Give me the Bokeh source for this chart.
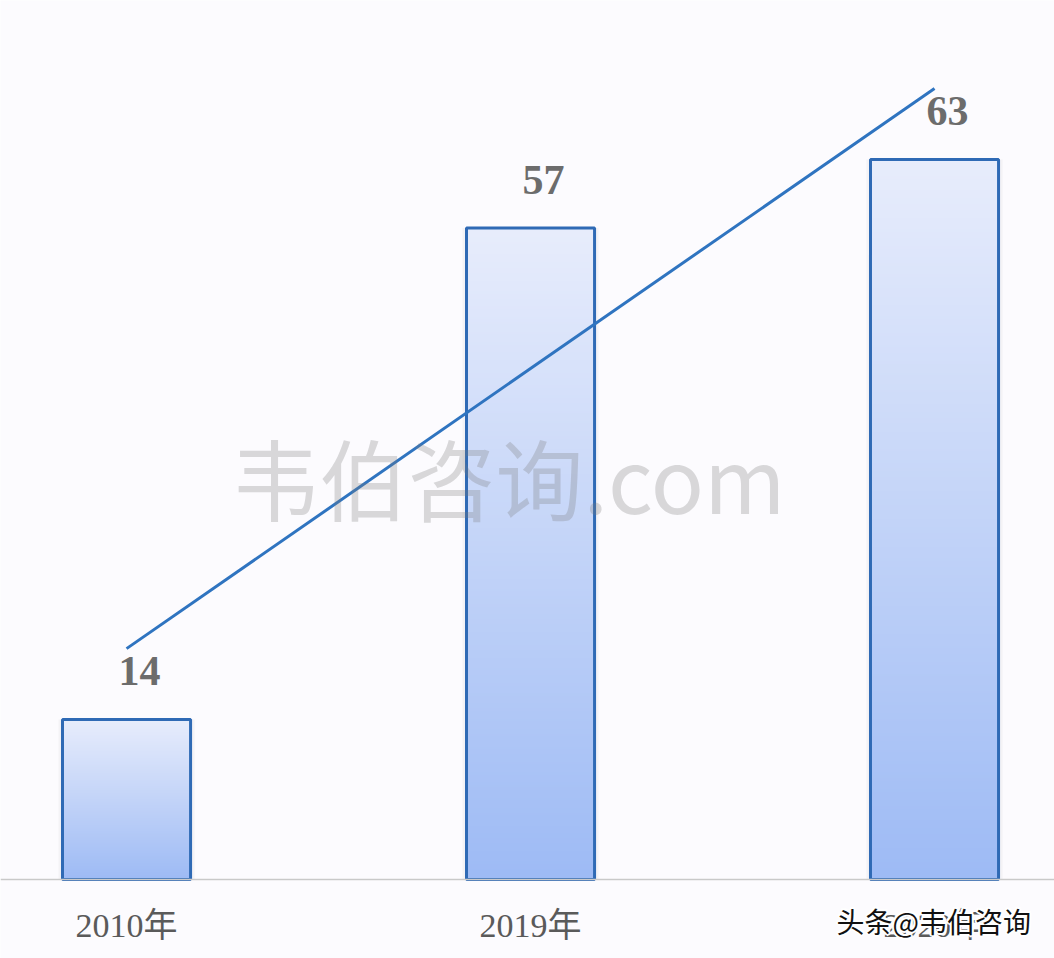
import numpy as np
from bokeh.plotting import figure
from bokeh.models import Range1d, Label, ColumnDataSource, Span
from bokeh.core.properties import value
from bokeh.embed import file_html
from bokeh.resources import INLINE

# ---- data ----
years = ["2010年", "2019年", "2020年"]
counts = [14, 57, 63]
trend = [20.2, 44.7, 69.2]
label_texts = ["14", "57", "63"]

xs = [0, 1, 2]
bar_w = 0.317

W, H = 1054, 958
p = figure(width=W, height=H, x_range=Range1d(-0.312, 2.297), y_range=Range1d(-6.91, 76.9),
           output_backend="svg", toolbar_location=None,
           min_border_left=0, min_border_right=0, min_border_top=0, min_border_bottom=0)
p.background_fill_color = "#fcfbfe"
p.border_fill_color = "#fcfbfe"
p.outline_line_color = None
p.grid.visible = False
p.xaxis.visible = False
p.yaxis.visible = False

# baseline
p.add_layout(Span(location=0, dimension="width", line_color="#c9c9c9", line_width=1.5))

# shadows
p.vbar(x=xs, top=counts, width=bar_w + 0.02, bottom=0, fill_color="#8a8a8a", fill_alpha=0.07,
       line_color=None)

# gradient bars
n = 256
top_c = np.array([0xe8, 0xed, 0xfc])
bot_c = np.array([0x9e, 0xbb, 0xf5])
grad = np.zeros((n, 1), dtype=np.uint32)
view = grad.view(dtype=np.uint8).reshape((n, 1, 4))
for i in range(n):
    t = i / (n - 1)
    c = bot_c * (1 - t) + top_c * t
    view[i, 0, 0] = int(c[0]); view[i, 0, 1] = int(c[1]); view[i, 0, 2] = int(c[2]); view[i, 0, 3] = 255
lefts = [x - bar_w / 2 for x in xs]
p.image_rgba(image=[grad] * len(xs), x=lefts, y=[0] * len(xs), dw=[bar_w] * len(xs), dh=counts)

p.vbar(x=xs, top=counts, width=bar_w, bottom=0, fill_alpha=0, line_color="#2f6ab5", line_width=3)

# trend line
p.line(xs, trend, line_color="#2f74c0", line_width=3)

# value labels
src = ColumnDataSource(dict(x=xs, y=counts, t=label_texts, base=[0] * len(xs), yr=years))
p.text(x="x", y="y", text="t", source=src, x_offset=13, y_offset=-48,
       text_align="center", text_baseline="middle", text_font=value("Liberation Serif"),
       text_font_style="bold", text_font_size="42px", text_color="#6c6c6c")

# category labels
p.text(x="x", y="base", text="yr", source=src, x_offset=0, y_offset=46,
       text_align="center", text_baseline="middle",
       text_font=value("Liberation Serif, Noto Sans CJK SC"),
       text_font_size="34px", text_color="#5a5a5a")

# center watermark
p.add_layout(Label(x=231, y=483, x_units="screen", y_units="screen", text="韦伯咨询.com",
                   text_font="Noto Sans CJK SC", text_font_size="88px", text_color="#7a7a7a",
                   text_alpha=0.28, text_baseline="middle", text_align="left"))

# bottom-right watermark with white halo
wm = "头条@韦伯咨询"
wx, wy = 836, 38
for dx, dy in [(-2, 0), (2, 0), (0, -2), (0, 2), (-1.5, -1.5), (1.5, 1.5), (-1.5, 1.5), (1.5, -1.5)]:
    p.add_layout(Label(x=wx + dx, y=wy + dy, x_units="screen", y_units="screen", text=wm,
                       text_font="Noto Sans CJK SC", text_font_size="28px", text_color="white",
                       text_baseline="middle", text_align="left"))
p.add_layout(Label(x=wx, y=wy, x_units="screen", y_units="screen", text=wm,
                   text_font="Noto Sans CJK SC", text_font_size="28px", text_color="#111111",
                   text_baseline="middle", text_align="left"))

open("out.html", "w").write(file_html(p, INLINE))
